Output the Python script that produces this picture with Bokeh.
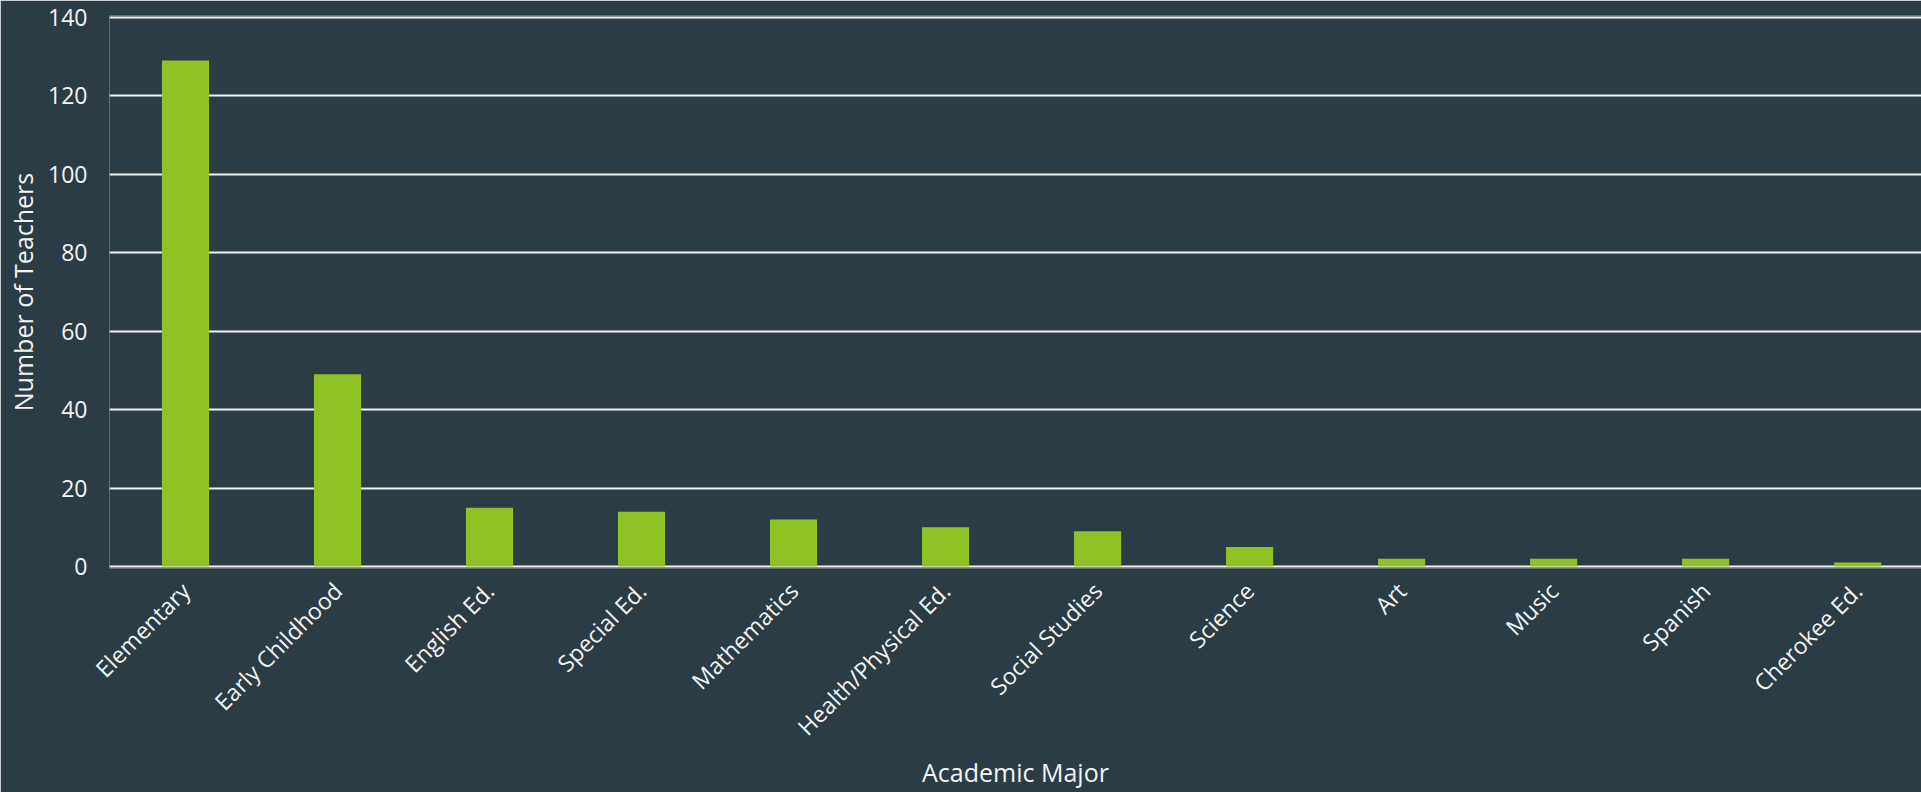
import math
from bokeh.plotting import figure
from bokeh.models import Range1d
from bokeh.embed import file_html
from bokeh.resources import INLINE

categories = ["Elementary", "Early Childhood", "English Ed.", "Special Ed.", "Mathematics",
              "Health/Physical Ed.", "Social Studies", "Science", "Art", "Music", "Spanish",
              "Cherokee Ed."]
teachers = [129, 49, 15, 14, 12, 10, 9, 5, 2, 2, 2, 1]
y_ticks = [0, 20, 40, 60, 80, 100, 120, 140]

BG = "#2C3C44"
GREEN = "#90C226"
TEXT = "#F4F4F4"
FONT = "Open Sans"

positions = list(range(len(categories)))

p = figure(width=1921, height=792, output_backend="svg", toolbar_location=None,
           x_range=Range1d(-0.5, 11.42), y_range=Range1d(-0.5, 140.5),
           background_fill_color=BG, border_fill_color=BG,
           min_border_left=109, min_border_right=0, min_border_top=15, min_border_bottom=224)
p.outline_line_color = None

p.vbar(x=positions, top=teachers, width=0.31, fill_color=GREEN, line_color=None)

p.xgrid.grid_line_color = None
p.ygrid.grid_line_color = "#F2F2F2"
p.ygrid.grid_line_width = 2

for ax in (p.xaxis, p.yaxis):
    ax.axis_line_color = None
    ax.major_tick_line_color = None
    ax.minor_tick_line_color = None
    ax.major_tick_out = 0
    ax.major_tick_in = 0
    ax.minor_tick_out = 0
    ax.minor_tick_in = 0
    ax.major_label_text_font = FONT
    ax.major_label_text_font_size = "23px"
    ax.major_label_text_color = TEXT
    ax.axis_label_text_font = FONT
    ax.axis_label_text_font_size = "25px"
    ax.axis_label_text_font_style = "normal"
    ax.axis_label_text_color = TEXT

p.yaxis.ticker = y_ticks
p.yaxis.major_label_standoff = 22
p.yaxis.axis_label = "Number of Teachers"
p.yaxis.axis_label_standoff = 5

p.xaxis.ticker = positions
p.xaxis.major_label_overrides = {i: c for i, c in zip(positions, categories)}
p.xaxis.major_label_orientation = math.pi / 4
p.xaxis.major_label_standoff = 18
p.xaxis.axis_label = "Academic Major"
p.xaxis.axis_label_standoff = -1

open("out.html", "w").write(file_html(p, INLINE))
